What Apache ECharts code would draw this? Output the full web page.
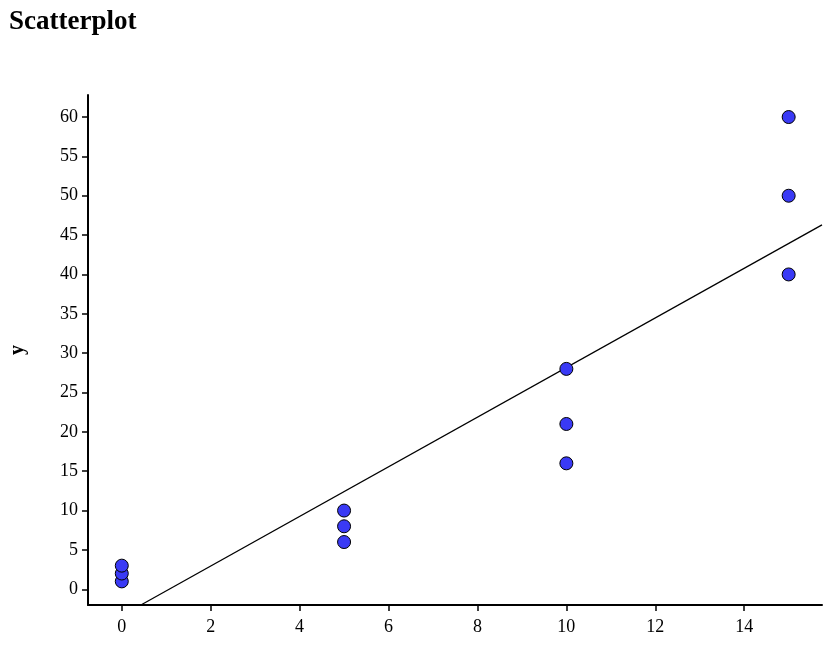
<!DOCTYPE html>
<html>
<head>
<meta charset="utf-8">
<script src="https://cdn.jsdelivr.net/npm/echarts@6/dist/echarts.min.js"></script>
<style>
html,body{margin:0;padding:0;background:#fff;}
#c{width:833px;height:645px;}
</style>
</head>
<body>
<div id="c"></div>
<script>
const pointsX = [0, 0, 0, 5, 5, 5, 10, 10, 10, 15, 15, 15];
const pointsY = [1, 2, 3, 6, 8, 10, 16, 21, 28, 40, 50, 60];
const fitLineX = [0.43, 15.75];
const fitLineY = [-2.0, 46.3];
const xTicks = [0, 2, 4, 6, 8, 10, 12, 14];
const yTicks = [0, 5, 10, 15, 20, 25, 30, 35, 40, 45, 50, 55, 60];

const font = '"Liberation Serif", "DejaVu Serif", serif';
const chart = echarts.init(document.getElementById('c'));
chart.setOption({
  animation: false,
  title: {
    text: 'Scatterplot', left: 4, top: 4,
    textStyle: { fontFamily: font, fontSize: 27, fontWeight: 'bold', color: '#000' }
  },
  grid: { left: 88, right: 11, top: 95, bottom: 40 },
  xAxis: {
    type: 'value', min: -0.76, max: 15.75,
    axisLine: { onZero: false, lineStyle: { color: '#000', width: 2 } },
    axisTick: { show: true, customValues: xTicks, length: 6, lineStyle: { color: '#000', width: 1.5 } },
    axisLabel: { customValues: xTicks, fontFamily: font, fontSize: 18, color: '#000', margin: 13 },
    splitLine: { show: false }
  },
  yAxis: {
    type: 'value', min: -2.0, max: 62.8,
    name: 'y', nameLocation: 'middle', nameGap: 60, nameRotate: 90,
    nameTextStyle: { fontFamily: font, fontSize: 20, fontWeight: 'bold', color: '#000' },
    axisLine: { show: true, onZero: false, lineStyle: { color: '#000', width: 2 } },
    axisTick: { show: true, customValues: yTicks, length: 6, lineStyle: { color: '#000', width: 1.5 } },
    axisLabel: { customValues: yTicks, fontFamily: font, fontSize: 18, color: '#000', margin: 10 },
    splitLine: { show: false }
  },
  series: [
    {
      type: 'line',
      data: fitLineX.map((x, i) => [x, fitLineY[i]]),
      symbol: 'none',
      lineStyle: { color: '#000', width: 1.3 },
      z: 1
    },
    {
      type: 'scatter',
      data: pointsX.map((x, i) => [x, pointsY[i]]),
      symbolSize: 13,
      itemStyle: { color: '#3a3af5', borderColor: '#000', borderWidth: 1, opacity: 1 },
      z: 2
    }
  ]
});
</script>
</body>
</html>
